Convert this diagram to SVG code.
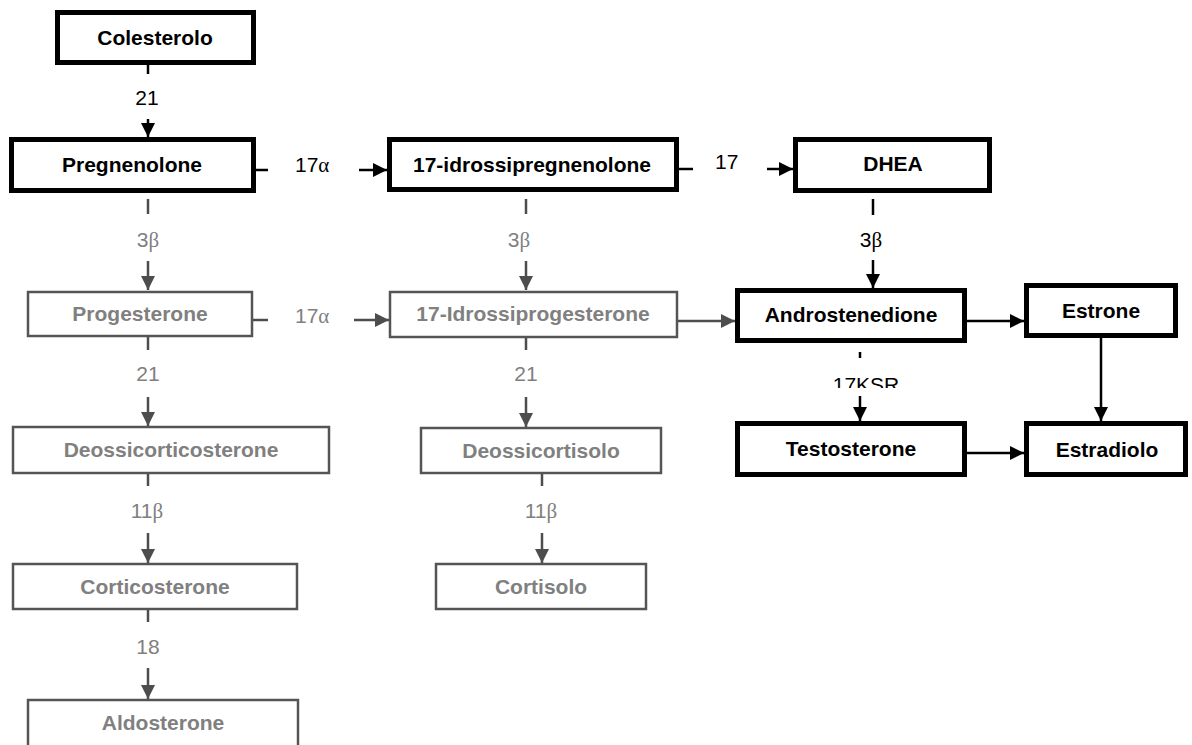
<svg xmlns="http://www.w3.org/2000/svg" width="1192" height="745" viewBox="0 0 1192 745">
<style>
  text { font-family: "Liberation Sans", Arial, sans-serif; font-size: 21px; text-anchor: middle; }
  .nb rect { fill: #fff; stroke: #000; stroke-width: 5; }
  .nb text { font-weight: bold; fill: #000; }
  .ng rect { fill: #fff; stroke: #555; stroke-width: 2.5; }
  .ng text { font-weight: bold; fill: #808080; }
  .ck { stroke: #000; stroke-width: 2.5; fill: none; }
  .cg { stroke: #4d4d4d; stroke-width: 2.5; fill: none; }
  .lk { fill: #000; }
  .lg { fill: #808080; }
  .gr { font-family: "Liberation Serif", "Times New Roman", serif; }
</style>
<defs>
  <marker id="ak" markerUnits="userSpaceOnUse" markerWidth="16" markerHeight="16" viewBox="0 0 16 16" refX="14" refY="8" orient="auto">
    <path d="M0,1 L14,8 L0,15 z" fill="#000"/>
  </marker>
  <marker id="ag" markerUnits="userSpaceOnUse" markerWidth="16" markerHeight="16" viewBox="0 0 16 16" refX="14" refY="8" orient="auto">
    <path d="M0,1 L14,8 L0,15 z" fill="#4d4d4d"/>
  </marker>
  <clipPath id="clipKSR"><rect x="800" y="360" width="140" height="28"/></clipPath>
</defs>

<g id="connectors">
  <!-- Colesterolo -> Pregnenolone -->
  <line class="ck" x1="148" y1="65" x2="148" y2="74"/>
  <line class="ck" x1="148" y1="119" x2="148" y2="137" marker-end="url(#ak)"/>
  <text class="lk" x="147" y="105">21</text>
  <!-- Pregnenolone -> 17-idrossipregnenolone -->
  <line class="ck" x1="256" y1="170" x2="268" y2="170"/>
  <line class="ck" x1="359" y1="170" x2="387" y2="170" marker-end="url(#ak)"/>
  <text class="lk" x="295" y="172" style="text-anchor:start">17<tspan class="gr">α</tspan></text>
  <!-- 17-idrossipregnenolone -> DHEA -->
  <line class="ck" x1="679" y1="169" x2="693" y2="169"/>
  <line class="ck" x1="767" y1="169" x2="793" y2="169" marker-end="url(#ak)"/>
  <text class="lk" x="715" y="169" style="text-anchor:start">17</text>
  <!-- DHEA -> Androstenedione -->
  <line class="ck" x1="873" y1="199" x2="873" y2="215"/>
  <line class="ck" x1="873" y1="260" x2="873" y2="288" marker-end="url(#ak)"/>
  <text class="lk" x="871" y="247">3<tspan class="gr">β</tspan></text>
  <!-- Pregnenolone -> Progesterone -->
  <line class="cg" x1="148" y1="199" x2="148" y2="214"/>
  <line class="cg" x1="148" y1="261" x2="148" y2="290" marker-end="url(#ag)"/>
  <text class="lg" x="148" y="247">3<tspan class="gr">β</tspan></text>
  <!-- 17-idrossipregnenolone -> 17-Idrossiprogesterone -->
  <line class="cg" x1="526" y1="199" x2="526" y2="214"/>
  <line class="cg" x1="526" y1="261" x2="526" y2="290" marker-end="url(#ag)"/>
  <text class="lg" x="519" y="247">3<tspan class="gr">β</tspan></text>
  <!-- Progesterone -> 17-Idrossiprogesterone -->
  <line class="cg" x1="253" y1="320" x2="268" y2="320"/>
  <line class="cg" x1="354" y1="320" x2="389" y2="320" marker-end="url(#ag)"/>
  <text class="lg" x="295" y="323" style="text-anchor:start">17<tspan class="gr">α</tspan></text>
  <!-- 17-Idrossiprogesterone -> Androstenedione -->
  <line class="cg" x1="678" y1="321" x2="735" y2="321" marker-end="url(#ag)"/>
  <!-- Androstenedione -> Estrone -->
  <line class="ck" x1="967" y1="321" x2="1024" y2="321" marker-end="url(#ak)"/>
  <!-- Androstenedione -> Testosterone -->
  <line class="ck" x1="860" y1="352" x2="860" y2="358"/>
  <line class="ck" x1="860" y1="396" x2="860" y2="421" marker-end="url(#ak)"/>
  <text class="lk" x="866" y="392" clip-path="url(#clipKSR)">17KSR</text>
  <!-- Testosterone -> Estradiolo -->
  <line class="ck" x1="967" y1="453" x2="1024" y2="453" marker-end="url(#ak)"/>
  <!-- Estrone -> Estradiolo -->
  <line class="ck" x1="1101" y1="338" x2="1101" y2="421" marker-end="url(#ak)"/>
  <!-- Progesterone -> Deossicorticosterone -->
  <line class="cg" x1="148" y1="336" x2="148" y2="350"/>
  <line class="cg" x1="148" y1="397" x2="148" y2="426" marker-end="url(#ag)"/>
  <text class="lg" x="148" y="381">21</text>
  <!-- 17-Idrossiprogesterone -> Deossicortisolo -->
  <line class="cg" x1="526" y1="337" x2="526" y2="350"/>
  <line class="cg" x1="526" y1="397" x2="526" y2="427" marker-end="url(#ag)"/>
  <text class="lg" x="526" y="381">21</text>
  <!-- Deossicorticosterone -> Corticosterone -->
  <line class="cg" x1="148" y1="474" x2="148" y2="486"/>
  <line class="cg" x1="148" y1="533" x2="148" y2="563" marker-end="url(#ag)"/>
  <text class="lg" x="147" y="518">11<tspan class="gr">β</tspan></text>
  <!-- Deossicortisolo -> Cortisolo -->
  <line class="cg" x1="542" y1="474" x2="542" y2="486"/>
  <line class="cg" x1="542" y1="533" x2="542" y2="563" marker-end="url(#ag)"/>
  <text class="lg" x="541" y="518">11<tspan class="gr">β</tspan></text>
  <!-- Corticosterone -> Aldosterone -->
  <line class="cg" x1="148" y1="610" x2="148" y2="622"/>
  <line class="cg" x1="148" y1="668" x2="148" y2="699" marker-end="url(#ag)"/>
  <text class="lg" x="148" y="654">18</text>
</g>

<g id="colesterolo" class="nb"><rect x="57.5" y="12.5" width="196" height="50"/><text x="155" y="45">Colesterolo</text></g>
<g id="pregnenolone" class="nb"><rect x="11.5" y="139.5" width="242" height="51"/><text x="132" y="172">Pregnenolone</text></g>
<g id="idrossipregnenolone" class="nb"><rect x="389.5" y="139.5" width="287" height="50"/><text x="532" y="172">17-idrossipregnenolone</text></g>
<g id="dhea" class="nb"><rect x="795.5" y="139.5" width="194" height="51"/><text x="893" y="171">DHEA</text></g>
<g id="androstenedione" class="nb"><rect x="737.5" y="290.5" width="227" height="50"/><text x="851" y="322">Androstenedione</text></g>
<g id="estrone" class="nb"><rect x="1026.5" y="285.5" width="149" height="50"/><text x="1101" y="318">Estrone</text></g>
<g id="testosterone" class="nb"><rect x="737.5" y="423.5" width="227" height="51"/><text x="851" y="456">Testosterone</text></g>
<g id="estradiolo" class="nb"><rect x="1026.5" y="423.5" width="159" height="51"/><text x="1107" y="457">Estradiolo</text></g>

<g id="progesterone" class="ng"><rect x="28" y="292" width="224" height="44"/><text x="140" y="321">Progesterone</text></g>
<g id="idrossiprogesterone" class="ng"><rect x="390" y="292" width="287" height="45"/><text x="533" y="321">17-Idrossiprogesterone</text></g>
<g id="deossicorticosterone" class="ng"><rect x="13" y="427" width="316" height="46"/><text x="171" y="457">Deossicorticosterone</text></g>
<g id="deossicortisolo" class="ng"><rect x="421" y="428" width="240" height="45"/><text x="541" y="458">Deossicortisolo</text></g>
<g id="corticosterone" class="ng"><rect x="13" y="564" width="284" height="45"/><text x="155" y="594">Corticosterone</text></g>
<g id="cortisolo" class="ng"><rect x="436" y="564" width="210" height="45"/><text x="541" y="594">Cortisolo</text></g>
<g id="aldosterone" class="ng"><rect x="28" y="700" width="270" height="60"/><text x="163" y="730">Aldosterone</text></g>
</svg>
